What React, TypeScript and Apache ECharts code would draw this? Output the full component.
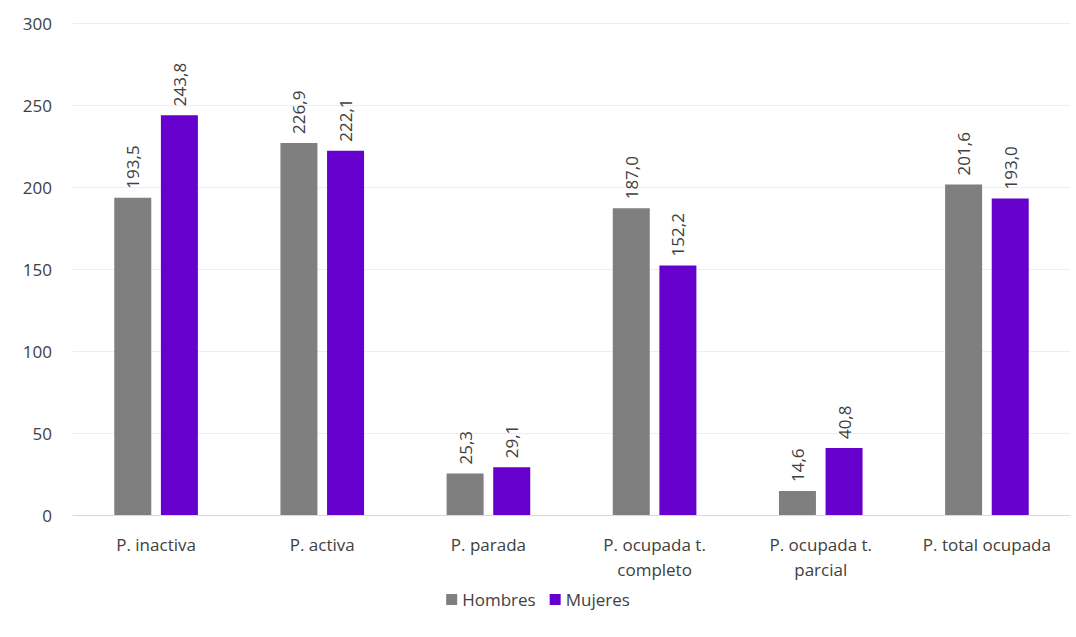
import React, { useEffect, useRef } from "react";
import * as echarts from "echarts";

const categories = [
  "P. inactiva",
  "P. activa",
  "P. parada",
  "P. ocupada t.\ncompleto",
  "P. ocupada t.\nparcial",
  "P. total ocupada",
];
const hombres = [193.5, 226.9, 25.3, 187.0, 14.6, 201.6];
const mujeres = [243.8, 222.1, 29.1, 152.2, 40.8, 193.0];
const seriesNames = ["Hombres", "Mujeres"];

const FONT = "'Open Sans', 'Noto Sans', sans-serif";

export default function App() {
  const ref = useRef<HTMLDivElement>(null);
  useEffect(() => {
    if (!ref.current) return;
    const chart = echarts.init(ref.current, undefined, { renderer: "svg" });
    const label = {
      show: true,
      position: "top" as const,
      rotate: 90,
      align: "left" as const,
      verticalAlign: "middle" as const,
      distance: 9,
      color: "#404040",
      fontSize: 17,
      fontFamily: FONT,
      formatter: (p: any) => Number(p.value).toFixed(1).replace(".", ","),
    };
    chart.setOption({
      animation: false,
      backgroundColor: "#ffffff",
      grid: { left: 73, right: 6, top: 23, bottom: 122 },
      legend: {
        bottom: 24,
        left: "center",
        itemWidth: 11,
        itemHeight: 11,
        itemGap: 14,
        icon: "rect",
        textStyle: { color: "#404040", fontSize: 17, fontFamily: FONT },
        data: seriesNames,
      },
      xAxis: {
        type: "category",
        data: categories,
        axisLine: { lineStyle: { color: "#d9d9d9" } },
        axisTick: { show: false },
        axisLabel: {
          color: "#404040",
          fontSize: 17,
          fontFamily: FONT,
          margin: 17,
          lineHeight: 25,
          interval: 0,
        },
      },
      yAxis: {
        type: "value",
        min: 0,
        max: 300,
        interval: 50,
        axisLine: { show: false },
        axisTick: { show: false },
        splitLine: { lineStyle: { color: "#eeeeee" } },
        axisLabel: { color: "#404040", fontSize: 17, fontFamily: FONT, margin: 21 },
      },
      series: [
        {
          name: seriesNames[0],
          type: "bar",
          data: hombres,
          barWidth: 37,
          barGap: "26%",
          itemStyle: { color: "#7f7f7f" },
          label,
        },
        {
          name: seriesNames[1],
          type: "bar",
          data: mujeres,
          barWidth: 37,
          barGap: "26%",
          itemStyle: { color: "#6600cc" },
          label,
        },
      ],
    });
    return () => chart.dispose();
  }, []);
  return (
    <div
      ref={ref}
      style={{ position: "fixed", left: 0, top: 0, width: 1076, height: 637 }}
    />
  );
}
